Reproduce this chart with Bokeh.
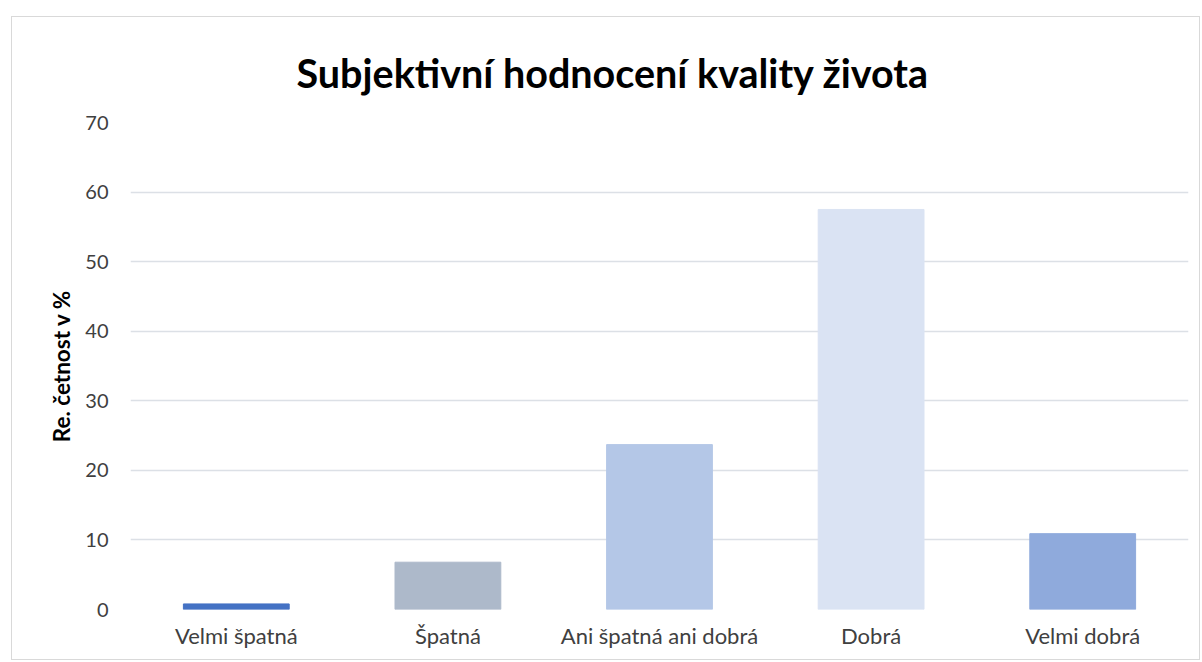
from bokeh.plotting import figure
from bokeh.models import ColumnDataSource, Range1d, FixedTicker
from bokeh.embed import file_html
from bokeh.resources import INLINE

categories = ["Velmi špatná", "Špatná", "Ani špatná ani dobrá", "Dobrá", "Velmi dobrá"]
values = [0.8, 6.8, 23.7, 57.5, 10.9]
colors = ["#4472C4", "#ADB9CA", "#B4C7E7", "#DAE3F3", "#8FAADC"]
y_ticks = [0, 10, 20, 30, 40, 50, 60, 70]

title_text = "Subjektivní hodnocení kvality života"
y_label = "Re. četnost v %"

src = ColumnDataSource(dict(cat=categories, val=values, color=colors))

p = figure(x_range=categories, y_range=Range1d(0, 70), width=1189, height=644,
           output_backend="svg", toolbar_location=None, title=title_text,
           min_border_left=118, min_border_right=13, min_border_top=105,
           min_border_bottom=52)
p.margin = (16, 0, 0, 11)
p.styles = {"border": "1px solid #D9D9D9"}

p.vbar(x="cat", top="val", width=0.5, color="color", source=src)

p.title.text_font = "Lato"
p.title.text_font_size = "39.5px"
p.title.text_font_style = "bold"
p.title.text_color = "#000000"
p.title.align = "left"
p.title.vertical_align = "top"
p.title.offset = 166
p.title.standoff = 50

p.outline_line_color = None
p.background_fill_color = "white"
p.border_fill_color = "white"

p.xgrid.grid_line_color = None
p.ygrid.grid_line_color = "#DCE0E6"
p.ygrid.grid_line_width = 1.5

p.yaxis.ticker = FixedTicker(ticks=y_ticks)
for ax in (p.xaxis, p.yaxis):
    ax.axis_line_color = None
    ax.major_tick_line_color = None
    ax.minor_tick_line_color = None
    ax.major_label_text_font = "Lato"
    ax.major_label_text_color = "#404040"

p.yaxis.major_label_text_font_size = "20px"
p.xaxis.major_label_text_font_size = "22px"
p.yaxis.major_label_standoff = 16
p.xaxis.major_label_standoff = 6
p.yaxis.axis_label = y_label
p.yaxis.axis_label_text_font = "Lato"
p.yaxis.axis_label_text_font_size = "22.5px"
p.yaxis.axis_label_text_font_style = "bold"
p.yaxis.axis_label_text_color = "#000000"
p.yaxis.axis_label_standoff = 7

open("out.html", "w").write(file_html(p, INLINE))
